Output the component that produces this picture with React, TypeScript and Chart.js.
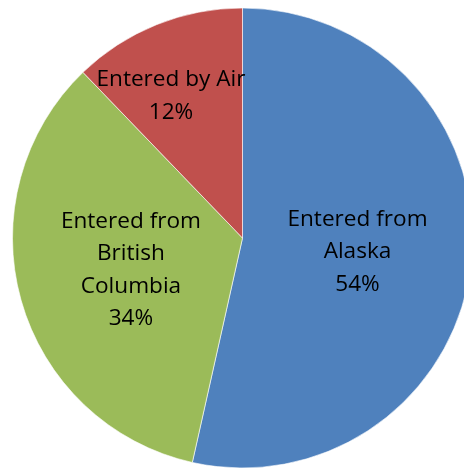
import React, { useEffect, useRef } from "react";
import { Chart, registerables } from "chart.js";

Chart.register(...registerables);

const categories = ["Entered from Alaska", "Entered from British Columbia", "Entered by Air"];
const labelLines = [
  ["Entered from", "Alaska", "54%"],
  ["Entered from", "British", "Columbia", "34%"],
  ["Entered by Air", "12%"],
];
const values = [53.5, 34.3, 12.2];
const colors = ["#4F81BD", "#9BBB59", "#C0504D"];
// label centre as fraction of the radius, relative to the pie centre
const labelOffsetX = [0.5, -0.485, -0.311];
const labelOffsetY = [0.061, 0.139, -0.617];

const FONT = "'Open Sans', 'Liberation Sans', sans-serif";

const labelPlugin = {
  id: "sliceLabels",
  afterDatasetsDraw(chart: any) {
    const ctx = chart.ctx;
    const meta = chart.getDatasetMeta(0);
    ctx.save();
    ctx.font = `22.6px ${FONT}`;
    ctx.fillStyle = "#000";
    ctx.textAlign = "center";
    ctx.textBaseline = "middle";
    const lh = 32.3;
    meta.data.forEach((arc: any, i: number) => {
      const p = arc.getProps(["x", "y", "outerRadius"], true);
      const cx = p.x + labelOffsetX[i] * p.outerRadius;
      const cy = p.y + labelOffsetY[i] * p.outerRadius;
      const lines = labelLines[i];
      const startY = cy - ((lines.length - 1) * lh) / 2;
      lines.forEach((t, j) => ctx.fillText(t, cx, startY + j * lh));
    });
    ctx.restore();
  },
};

export default function App() {
  const ref = useRef<HTMLCanvasElement | null>(null);
  useEffect(() => {
    if (!ref.current) return;
    const chart = new Chart(ref.current, {
      type: "pie",
      data: {
        labels: categories,
        datasets: [
          {
            data: values,
            backgroundColor: colors,
            borderColor: "rgba(255,255,255,0.6)",
            borderWidth: 1,
            hoverOffset: 0,
          },
        ],
      },
      options: {
        responsive: false,
        animation: false,
        layout: { padding: { top: 7.5, bottom: 1.5, left: 12, right: 12 } },
        plugins: {
          legend: { display: false },
          tooltip: { enabled: false },
          title: { display: false },
        },
      },
      plugins: [labelPlugin],
    });
    return () => chart.destroy();
  }, []);
  return (
    <div
      style={{
        position: "fixed",
        left: 0,
        top: 0,
        width: 464,
        height: 470,
        overflow: "hidden",
        background: "#fff",
      }}
    >
      <canvas ref={ref} width={485} height={470} style={{ width: 485, height: 470, display: "block" }} />
    </div>
  );
}
